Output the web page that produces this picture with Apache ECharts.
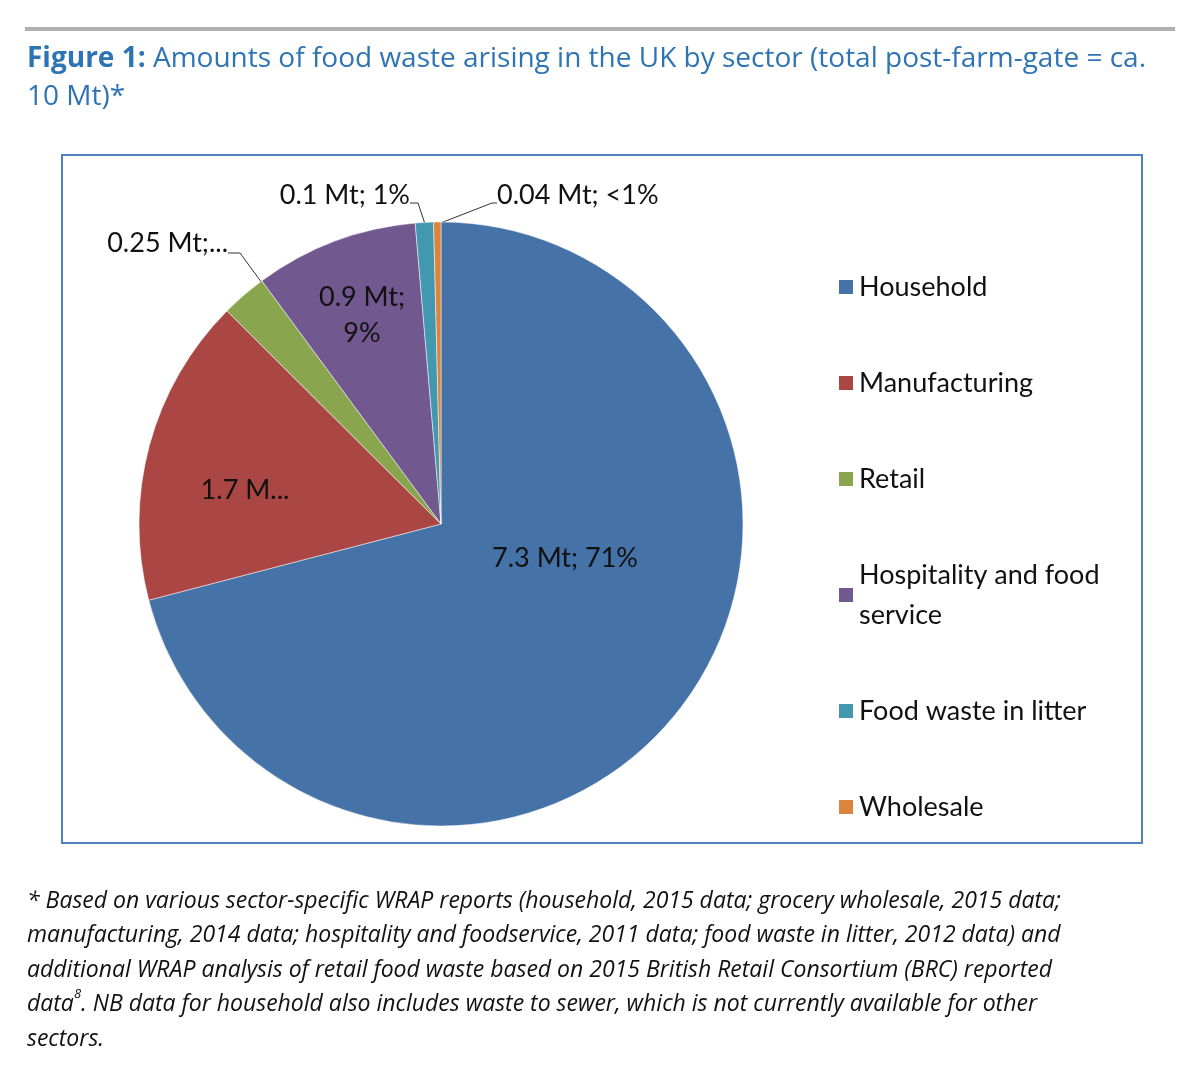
<!DOCTYPE html>
<html><head><meta charset="utf-8">
<script src="https://cdn.jsdelivr.net/npm/echarts@6/dist/echarts.min.js"></script>
<style>html,body{margin:0;background:#fff}#c{width:1200px;height:1090px}</style>
</head><body><div id="c"></div>
<script>
const sectors = ['Household', 'Manufacturing', 'Retail', 'Hospitality and food\nservice', 'Food waste in litter', 'Wholesale'];
const amounts = [7.3, 1.7, 0.25, 0.9, 0.1, 0.04];
const labels = ['7.3 Mt; 71%', '1.7 Mt; 17%', '0.25 Mt; 2%', '0.9 Mt;\n9%', '0.1 Mt; 1%', '0.04 Mt; <1%'];
const colors = ['#4572A7', '#AA4643', '#89A54E', '#71588F', '#4198AF', '#DB843D'];

// label placement for each slice (inside ones: centre point; outside: anchor + leader)
const labelSpots = [
  {x: 565, y: 558, align: 'center'},
  {x: 245, y: 490, align: 'center'},
  {x: 228, y: 243, align: 'right', line: [[228, 253], [240, 253], [262, 283]]},
  {x: 362, y: 315, align: 'center'},
  {x: 410, y: 195, align: 'right', line: [[410, 203], [418, 203], [425, 224]]},
  {x: 497, y: 195, align: 'left', line: [[497, 203], [492, 203], [438, 224]]}
];
const outside = [false, false, true, false, true, true];

const chart = echarts.init(document.getElementById('c'));
const font = 'Lato, "Open Sans", sans-serif';

chart.setOption({
  animation: false,
  color: colors,
  graphic: [
    {type: 'rect', shape: {x: 25, y: 27, width: 1150, height: 4}, style: {fill: '#b0b0b0'}},
    {type: 'text', left: 27, top: 40, style: {
      text: '{b|Figure 1:} Amounts of food waste arising in the UK by sector (total post-farm-gate = ca.\n10 Mt)*',
      font: '28px "Open Sans"', fill: '#2E74B5', lineHeight: 38,
      rich: {b: {fontWeight: 'bold', fontSize: 28, fontFamily: 'Open Sans', fill: '#2E74B5'}}
    }},
    {type: 'rect', shape: {x: 62, y: 155, width: 1080, height: 688}, style: {fill: 'none', stroke: '#4F81BD', lineWidth: 2}},
    {type: 'text', left: 27, top: 884, style: {
      text: '* Based on various sector-specific WRAP reports (household, 2015 data; grocery wholesale, 2015 data;\nmanufacturing, 2014 data; hospitality and foodservice, 2011 data; food waste in litter, 2012 data) and\nadditional WRAP analysis of retail food waste based on 2015 British Retail Consortium (BRC) reported\ndata{s|8}. NB data for household also includes waste to sewer, which is not currently available for other\nsectors.',
      font: 'italic 23px "Open Sans"', fill: '#111', lineHeight: 34.5,
      rich: {s: {fontSize: 13, fontStyle: 'italic', fontFamily: 'Open Sans', verticalAlign: 'top', padding: [0, 0, 12, 0]}}
    }}
  ],
  legend: {
    orient: 'vertical', left: 832, top: 262, itemGap: 56, itemWidth: 16, itemHeight: 16,
    icon: 'rect',
    textStyle: {fontSize: 27, fontFamily: font, color: '#111', lineHeight: 40}
  },
  series: [{
    type: 'pie', center: [441, 524], radius: 302, startAngle: 90, clockwise: true,
    data: sectors.map((s, i) => ({name: s, value: amounts[i]})),
    itemStyle: {borderColor: '#fff', borderWidth: 0.5},
    label: {
      formatter: p => labels[p.dataIndex],
      fontSize: 27, fontFamily: font, color: '#111', lineHeight: 36
    },
    labelLine: {show: true, lineStyle: {color: '#333', width: 1}},
    labelLayout: p => {
      const s = labelSpots[p.dataIndex];
      const o = {x: s.x, y: s.y, align: s.align, verticalAlign: 'middle'};
      if (s.line) o.labelLinePoints = s.line;
      return o;
    },
    emphasis: {disabled: true}
  }]
});
</script></body></html>
